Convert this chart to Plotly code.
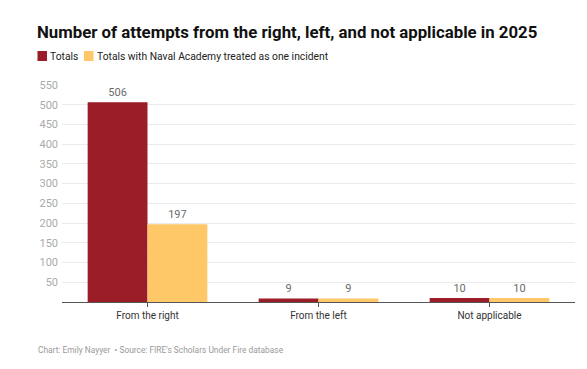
import plotly.graph_objects as go

categories = ["From the right", "From the left", "Not applicable"]
totals = [506, 9, 10]
naval_one = [197, 9, 10]
series_names = ["Totals", "Totals with Naval Academy treated as one incident"]
y_ticks = [50, 100, 150, 200, 250, 300, 350, 400, 450, 500, 550]

RED = "#9B1D27"
YELLOW = "#FEC868"
COLORS = [RED, YELLOW]

L, R, T, B = 62, 12, 85, 67
W, H = 587, 369
pw = W - L - R
ph = H - T - B


def px_x(px):
    return (px - L) / pw


def px_y(py):
    return (H - B - py) / ph


fig = go.Figure()
for name, vals, col in zip(series_names, [totals, naval_one], COLORS):
    fig.add_trace(go.Bar(
        x=categories, y=vals, name=name, marker=dict(color=col, line=dict(width=0)),
        text=[str(v) for v in vals], textposition="outside",
        textfont=dict(family="Roboto", size=11, color="#6b6b6b"),
        cliponaxis=False,
    ))

# manual legend (square + label)
legend_x = [37.5, 84]
shapes = []
annotations = []
for name, col, lx in zip(series_names, COLORS, legend_x):
    shapes.append(dict(type="rect", xref="paper", yref="paper",
                       x0=px_x(lx), x1=px_x(lx + 9.5), y0=px_y(61), y1=px_y(51),
                       fillcolor=col, line=dict(width=0), layer="above"))
    annotations.append(dict(text=name, x=px_x(lx + 10.5), y=px_y(56), xref="paper", yref="paper",
                            xanchor="left", yanchor="middle", showarrow=False,
                            font=dict(family="Roboto", size=10.3, color="#222222")))

annotations.append(dict(text="Chart: Emily Nayyer  • Source: FIRE's Scholars Under Fire database",
                        x=px_x(35.5), y=px_y(350), xref="paper", yref="paper",
                        xanchor="left", yanchor="middle", showarrow=False,
                        font=dict(family="Roboto", size=8.4, color="#9a9a9a")))

fig.update_layout(
    width=W, height=H,
    margin=dict(l=L, r=R, t=T, b=B, autoexpand=False),
    paper_bgcolor="white", plot_bgcolor="white",
    barmode="group", bargap=0.3, bargroupgap=0,
    font=dict(family="Roboto", color="#333333"),
    showlegend=False,
    title=dict(text="<b>Number of attempts from the right, left, and not applicable in 2025</b>",
               x=37/W, xanchor="left", xref="container", y=1 - 32/H, yanchor="middle",
               yref="container",
               font=dict(family="Roboto", size=16.8, color="#111111")),
    xaxis=dict(showline=True, linecolor="#555555", linewidth=1, ticks="outside",
               ticklen=4, tickcolor="#555555",
               tickfont=dict(size=10, color="#333333")),
    yaxis=dict(range=[0, 550], tickvals=y_ticks, showgrid=True, gridcolor="#EBEBEB",
               zeroline=False, showline=False, ticks="",
               tickfont=dict(size=11, color="#AAAAAA"), ticklabelstandoff=3),
    shapes=shapes,
    annotations=annotations,
)
fig.write_html("out.html", config={"displayModeBar": False},
               post_script="document.body.style.margin='0px';")
